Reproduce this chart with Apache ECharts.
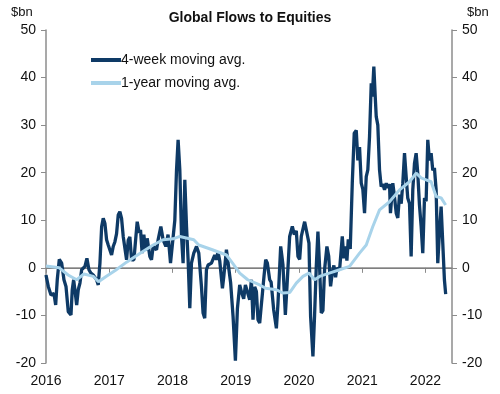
<!DOCTYPE html>
<html><head><meta charset="utf-8">
<script src="https://cdn.jsdelivr.net/npm/echarts@6/dist/echarts.min.js"></script>
<style>html,body{margin:0;padding:0;background:#fff}#c{width:500px;height:394px}</style>
</head><body><div id="c"></div>
<script>
const titleText = "Global Flows to Equities";
const unitLabel = "$bn";
const seriesNames = ["4-week moving avg.", "1-year moving avg."];
const yearTicks = [2016, 2017, 2018, 2019, 2020, 2021, 2022];

// 4-week moving average: [decimal year, $bn]
const fourWeek = [
 [2016.00,-1.5],[2016.036,-3.9],[2016.079,-5.7],[2016.106,-6.0],[2016.126,-5.4],[2016.153,-7.8],[2016.178,-2.5],
 [2016.21,1.8],[2016.248,1.0],[2016.284,-2.5],[2016.316,-3.9],[2016.352,-9.2],[2016.395,-9.9],[2016.415,-4.6],
 [2016.437,-2.5],[2016.463,-5.3],[2016.485,-7.8],[2016.51,-4.6],[2016.537,-3.2],[2016.564,-0.4],[2016.589,-0.7],
 [2016.616,0.3],[2016.647,2.0],[2016.679,-0.4],[2016.71,-1.1],[2016.747,-1.5],[2016.774,-1.8],[2016.80,-2.5],
 [2016.826,-3.6],[2016.853,1.0],[2016.88,8.7],[2016.905,10.4],[2016.932,9.3],[2016.958,5.9],[2016.984,4.8],
 [2017.011,5.2],[2017.037,2.7],[2017.063,4.5],[2017.09,5.5],[2017.116,7.2],[2017.142,11.1],[2017.168,11.8],
 [2017.195,10.4],[2017.221,6.6],[2017.274,1.7],[2017.30,5.8],[2017.326,6.5],[2017.353,1.7],[2017.39,1.7],
 [2017.442,9.7],[2017.473,7.4],[2017.495,8.0],[2017.52,3.1],[2017.547,7.0],[2017.574,3.6],[2017.60,6.2],
 [2017.642,2.4],[2017.668,1.7],[2017.694,4.5],[2017.748,3.8],[2017.773,5.9],[2017.816,8.7],[2017.852,5.9],
 [2017.895,4.5],[2017.93,7.0],[2017.969,1.0],[2018.00,1.0],[2018.037,10.0],[2018.064,20.6],[2018.089,26.9],
 [2018.116,20.6],[2018.143,6.6],[2018.168,1.0],[2018.195,18.5],[2018.222,8.7],[2018.247,1.7],[2018.274,-8.5],
 [2018.30,1.0],[2018.337,3.1],[2018.38,4.5],[2018.416,3.1],[2018.458,-3.9],[2018.484,-9.5],[2018.51,-10.6],
 [2018.537,-0.4],[2018.563,0.6],[2018.616,1.0],[2018.668,2.7],[2018.695,1.7],[2018.72,3.4],[2018.747,1.5],
 [2018.79,-4.3],[2018.81,-2.0],[2018.853,3.8],[2018.875,1.5],[2018.92,-3.2],[2018.958,-10.2],[2018.995,-19.5],
 [2019.027,-8.5],[2019.063,-3.6],[2019.09,-5.0],[2019.126,-6.5],[2019.153,-3.6],[2019.18,-3.2],[2019.221,-6.7],
 [2019.248,-2.5],[2019.273,-10.9],[2019.30,-4.0],[2019.327,-5.0],[2019.352,-10.9],[2019.379,-11.6],[2019.40,-8.5],
 [2019.422,-5.4],[2019.447,-1.8],[2019.474,1.7],[2019.50,1.0],[2019.537,-2.5],[2019.56,-3.0],[2019.60,-8.8],
 [2019.643,-12.7],[2019.668,-7.5],[2019.711,4.5],[2019.73,2.5],[2019.747,0.6],[2019.785,-9.9],[2019.81,-4.0],
 [2019.853,6.6],[2019.895,8.7],[2019.927,7.0],[2019.958,7.8],[2019.984,2.4],[2020.011,1.8],[2020.037,6.6],
 [2020.09,9.7],[2020.11,9.3],[2020.158,5.2],[2020.184,-10.2],[2020.221,-18.6],[2020.247,-10.0],[2020.274,0.3],
 [2020.30,7.6],[2020.326,0.3],[2020.353,-9.5],[2020.379,-9.0],[2020.405,-0.4],[2020.442,4.5],[2020.47,2.5],
 [2020.50,-3.9],[2020.527,-1.0],[2020.552,0.5],[2020.579,-2.0],[2020.60,0.0],[2020.642,-0.5],[2020.685,6.6],
 [2020.71,2.0],[2020.737,4.5],[2020.758,1.5],[2020.78,6.0],[2020.811,4.0],[2020.843,17.8],[2020.874,28.3],
 [2020.906,28.9],[2020.931,22.6],[2020.958,25.4],[2020.985,17.8],[2021.01,16.5],[2021.037,11.5],[2021.064,19.2],
 [2021.089,20.6],[2021.116,27.6],[2021.143,38.8],[2021.16,36.0],[2021.184,42.3],[2021.206,36.0],[2021.222,31.8],
 [2021.247,30.0],[2021.274,20.6],[2021.30,17.1],[2021.326,17.6],[2021.353,16.4],[2021.38,17.8],[2021.405,16.8],
 [2021.432,17.6],[2021.447,11.5],[2021.484,17.8],[2021.51,15.0],[2021.538,11.5],[2021.563,10.5],[2021.59,15.4],
 [2021.617,13.5],[2021.642,17.8],[2021.669,24.1],[2021.696,19.0],[2021.72,14.7],[2021.748,13.5],[2021.774,2.4],
 [2021.80,16.4],[2021.827,22.0],[2021.853,24.1],[2021.879,19.8],[2021.905,13.3],[2021.932,8.7],[2021.958,3.1],
 [2021.985,14.7],[2022.011,14.0],[2022.037,26.9],[2022.063,22.6],[2022.09,24.1],[2022.116,20.5],[2022.142,21.0],
 [2022.169,16.4],[2022.195,1.0],[2022.22,7.3],[2022.248,12.9],[2022.274,5.2],[2022.30,-2.5],[2022.32,-5.5]
];

// 1-year moving average: [decimal year, $bn]
const oneYear = [
 [2016.00,0.4],[2016.21,0.0],[2016.35,-1.5],[2016.485,-2.5],[2016.60,-1.3],[2016.75,-1.8],[2016.83,-2.9],
 [2016.95,-1.8],[2017.10,-0.5],[2017.274,1.2],[2017.495,3.1],[2017.694,4.8],[2017.852,5.9],[2018.01,6.1],
 [2018.116,6.6],[2018.337,5.9],[2018.416,4.8],[2018.63,3.8],[2018.853,2.7],[2018.95,1.0],[2019.063,-1.1],
 [2019.19,-2.5],[2019.221,-2.9],[2019.379,-3.6],[2019.474,-4.3],[2019.643,-4.6],[2019.747,-5.3],[2019.853,-5.2],
 [2019.958,-3.2],[2020.063,-1.8],[2020.158,-1.1],[2020.247,-2.5],[2020.326,-1.8],[2020.48,-1.1],[2020.642,-0.4],
 [2020.80,0.3],[2020.958,3.1],[2021.064,4.8],[2021.168,8.7],[2021.274,12.2],[2021.432,13.9],[2021.59,16.4],
 [2021.748,18.1],[2021.853,19.9],[2021.932,18.9],[2022.011,18.5],[2022.09,18.1],[2022.169,15.0],[2022.248,14.7],
 [2022.32,13.2]
];

const darkColor = "#0e3a66";
const lightColor = "#a8d3ea";
const axisGray = "#8c8c8c";
const font = "Liberation Sans";

const chart = echarts.init(document.getElementById('c'), null, {renderer: 'canvas'});
const yAxisCommon = {
  type: 'value', min: -20, max: 50, interval: 10,
  axisLine: {show: true, lineStyle: {color: axisGray, width: 1.5}},
  axisTick: {show: true, length: 5, lineStyle: {color: axisGray}},
  splitLine: {show: false},
  axisLabel: {color: '#111', fontSize: 14, fontFamily: font, margin: 10}
};
chart.setOption({
  animation: false,
  backgroundColor: '#fff',
  title: [
    {text: titleText, left: 'center', top: 6, textStyle: {fontFamily: font, fontSize: 14, fontWeight: 'bold', color: '#111'}},
    {text: unitLabel, left: 6, top: 1, textStyle: {fontFamily: font, fontSize: 13, fontWeight: 'normal', color: '#111'}},
    {text: unitLabel, left: 462, top: 1, textStyle: {fontFamily: font, fontSize: 13, fontWeight: 'normal', color: '#111'}}
  ],
  legend: {
    data: seriesNames, orient: 'vertical', left: 86, top: 48, itemGap: 9,
    itemWidth: 30, itemHeight: 4, icon: 'rect',
    textStyle: {fontFamily: font, fontSize: 14, color: '#111', padding: [0,0,0,-5]}
  },
  grid: {left: 46, right: 48, top: 30, bottom: 31, containLabel: false},
  xAxis: {
    type: 'value', min: 2016, max: 2022.42, interval: 1,
    axisLine: {show: true, lineStyle: {color: axisGray, width: 1.5}},
    axisTick: {show: true, length: 5, lineStyle: {color: axisGray}},
    splitLine: {show: false},
    axisLabel: {color: '#111', fontSize: 14, fontFamily: font, margin: 11, showMaxLabel: false,
      formatter: v => (yearTicks.indexOf(Math.round(v)) >= 0 && Math.abs(v - Math.round(v)) < 1e-6) ? String(Math.round(v)) : ''}
  },
  yAxis: [
    Object.assign({}, yAxisCommon, {position: 'left'}),
    Object.assign({}, yAxisCommon, {position: 'right'})
  ],
  series: [
    {
      name: seriesNames[0], type: 'line', data: fourWeek, showSymbol: false, symbol: 'none',
      lineStyle: {color: darkColor, width: 3.3}, itemStyle: {color: darkColor},
      markLine: {silent: true, symbol: 'none', label: {show: false},
        lineStyle: {color: '#7f7f7f', width: 1, type: 'solid'}, data: [{yAxis: 0}], z: 1},
      z: 2
    },
    {
      name: seriesNames[1], type: 'line', data: oneYear, showSymbol: false, symbol: 'none',
      lineStyle: {color: lightColor, width: 3}, itemStyle: {color: lightColor}, z: 3
    }
  ]
});
</script></body></html>
